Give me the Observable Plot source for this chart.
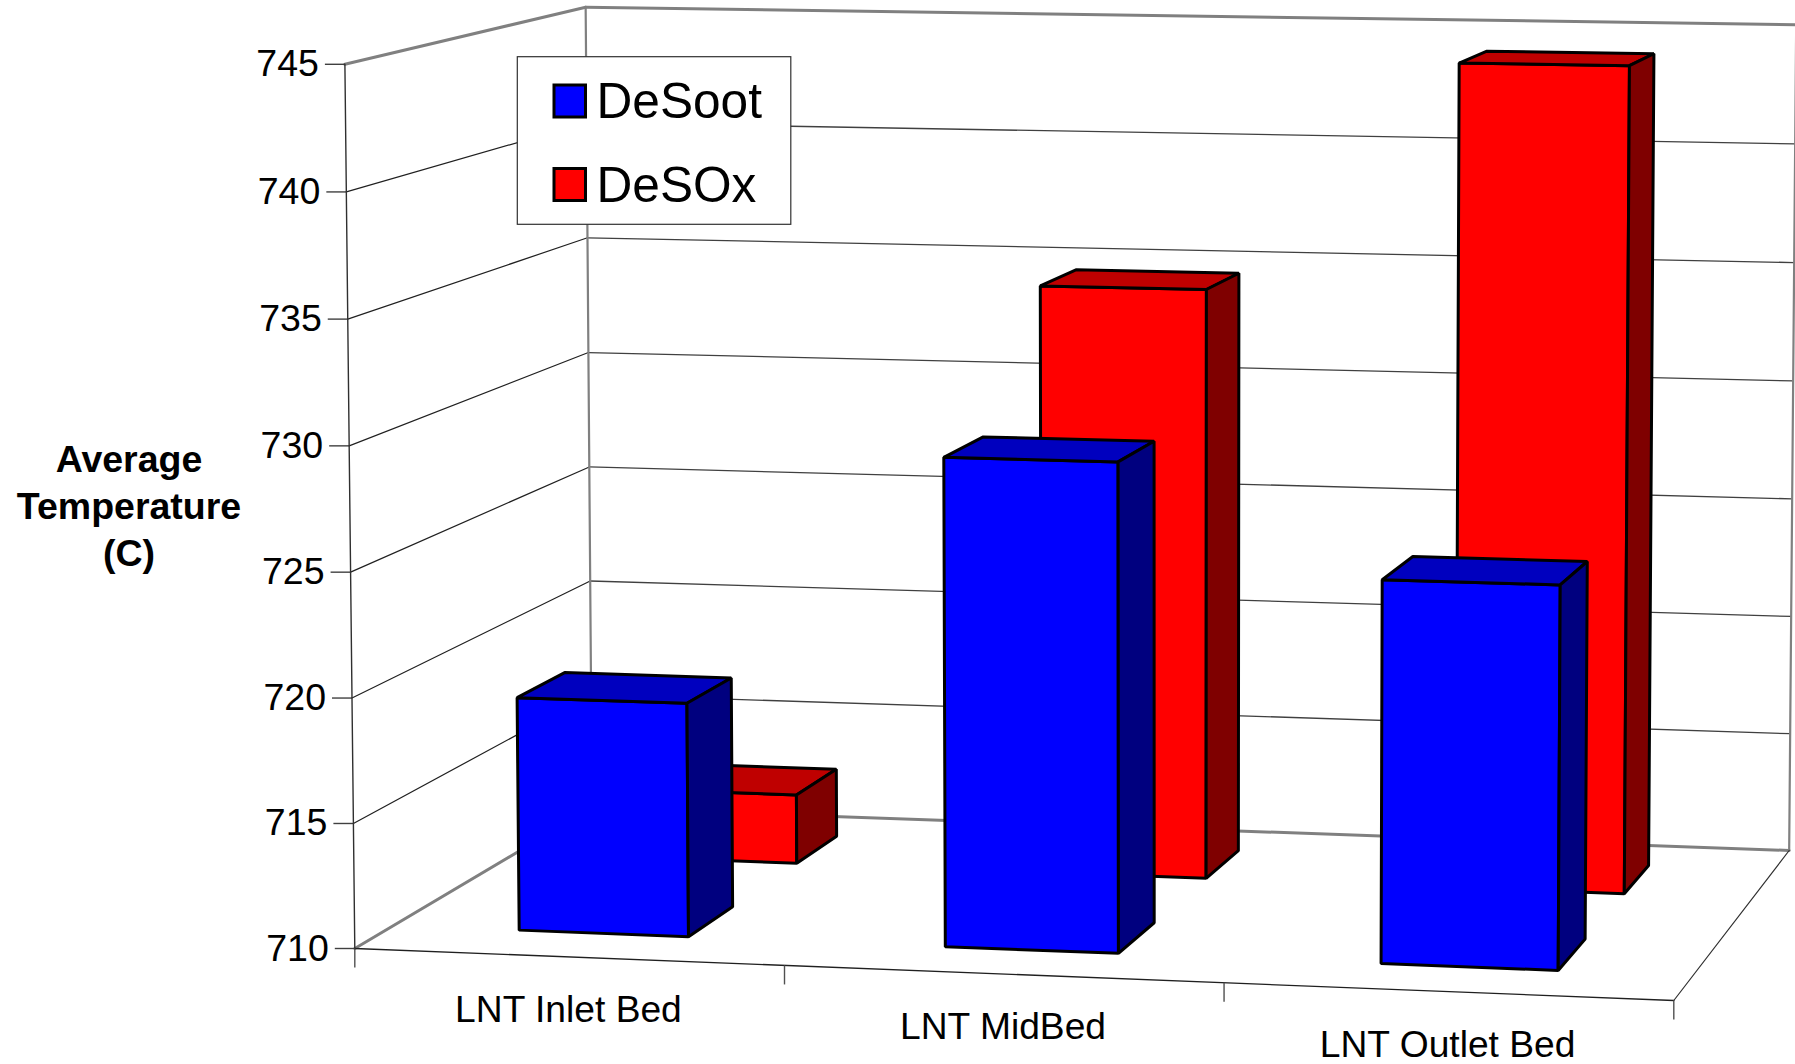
<!DOCTYPE html>
<html>
<head>
<meta charset="utf-8">
<script src="https://cdn.jsdelivr.net/npm/d3@7"></script>
<script src="https://cdn.jsdelivr.net/npm/@observablehq/plot@0.6"></script>
<style>
html,body{margin:0;padding:0;background:#fff;overflow:hidden}
svg{display:block}
</style>
</head>
<body>
<div id="chart"></div>
<script>
// ---- data ----
const categories = ["LNT Inlet Bed", "LNT MidBed", "LNT Outlet Bed"];
const seriesNames = ["DeSoot", "DeSOx"];
const deSoot = [719.4, 729.5, 725.15];
const deSOx = [712.9, 734.55, 744.05];
const yTicks = [710, 715, 720, 725, 730, 735, 740, 745];
const yTitle = ["Average", "Temperature", "(C)"];

// ---- perspective of the 3D box (fitted to the frame corners) ----
const O = [354.3, 948], PU = [1673.3, 1000], PD = [591.5, 807.5], PV = [344.4, 63.8];
const a = -0.0336, b = 0.105, c = -0.012;
const A = [PU[0] * (1 + a) - O[0], PU[1] * (1 + a) - O[1]];
const B = [PD[0] * (1 + b) - O[0], PD[1] * (1 + b) - O[1]];
const C = [PV[0] * (1 + c) - O[0], PV[1] * (1 + c) - O[1]];
const vMin = 710, vMax = 745;
function project(cat, depth, value) {
  const U = cat / categories.length, D = depth, V = (value - vMin) / (vMax - vMin);
  const w = 1 + a * U + b * D + c * V;
  return {
    x: (O[0] + U * A[0] + D * B[0] + V * C[0]) / w,
    y: (O[1] + U * A[1] + D * B[1] + V * C[1]) / w
  };
}

// ---- bar geometry in chart units ----
const barLo = 0.298, barHi = 0.698;
const depthStart = [0.152, 0.658], depthSize = 0.2;
const palette = [
  {front: "#0000ff", top: "#0000bf", side: "#00007f"},
  {front: "#ff0000", top: "#bf0000", side: "#7f0000"}
];

const n = categories.length;
const xy = {x: "x", y: "y"};
const line = (pts, o) => Plot.line(pts, {...xy, ...o});

// walls
const lineDark = "#303030", lineGray = "#808080";
const marks = [];
yTicks.forEach((t) => {
  const frontL = project(0, 0, t), backL = project(0, 1, t), backR = project(n, 1, t);
  const edge = t === vMax || t === vMin;
  marks.push(line([frontL, backL], {stroke: edge ? lineGray : "#202020", strokeWidth: edge ? 3 : 1.2}));
  marks.push(line([backL, backR], {stroke: edge ? lineGray : "#404040", strokeWidth: edge ? 3 : 1.3}));
  marks.push(Plot.link([frontL], {x1: "x", y1: "y", x2: (d) => d.x - 20, y2: "y", stroke: "#404040", strokeWidth: 1.4}));
});
marks.push(line([project(0, 1, vMin), project(0, 1, vMax)], {stroke: lineGray, strokeWidth: 2.2}));
marks.push(line([project(n, 1, vMin), project(n, 1, vMax)], {stroke: lineGray, strokeWidth: 2.2}));
marks.push(line([project(0, 0, vMin), project(0, 0, vMax)], {stroke: lineDark, strokeWidth: 1.4}));
marks.push(line([project(0, 0, vMin), project(n, 0, vMin)], {stroke: "#202020", strokeWidth: 1.4}));
marks.push(line([project(n, 0, vMin), project(n, 1, vMin)], {stroke: "#303030", strokeWidth: 1.2}));
d3.range(n + 1).forEach((i) => {
  const p = project(i, 0, vMin);
  marks.push(Plot.link([p], {x1: "x", y1: "y", x2: "x", y2: (d) => d.y + 19, stroke: "#505050", strokeWidth: 1.4}));
});

// bars: back series first, then front series
const face = (pts, fill) => Plot.line(pts, {...xy, fill, stroke: "#000", strokeWidth: 3, curve: "linear-closed", strokeLinejoin: "miter"});
categories.forEach((_, i) => {
  [[1, deSOx[i]], [0, deSoot[i]]].forEach(([s, v]) => {
    const u0 = i + barLo, u1 = i + barHi, d0 = depthStart[s], d1 = d0 + depthSize, col = palette[s];
    marks.push(face([project(u0, d0, vMin), project(u1, d0, vMin), project(u1, d0, v), project(u0, d0, v)], col.front));
    marks.push(face([project(u0, d0, v), project(u1, d0, v), project(u1, d1, v), project(u0, d1, v)], col.top));
    marks.push(face([project(u1, d0, vMin), project(u1, d1, vMin), project(u1, d1, v), project(u1, d0, v)], col.side));
  });
});

// y tick labels
marks.push(Plot.text(yTicks.map((t) => ({...project(0, 0, t), t})), {
  ...xy, text: (d) => String(d.t), textAnchor: "end", dx: -26, lineAnchor: "middle",
  fontSize: 37.5, fill: "#000"
}));
// category labels
marks.push(Plot.text(categories.map((name, i) => ({...project(i + 0.5, 0, vMin), name})), {
  ...xy, text: "name", textAnchor: "middle", dy: 53.5, lineAnchor: "middle",
  fontSize: 37.2, fill: "#000"
}));
// y title
marks.push(Plot.text([yTitle.join("\n")], {
  x: () => 128.5, y: () => 503, text: (d) => d, textAnchor: "middle", lineAnchor: "middle",
  fontSize: 37.5, fontWeight: "bold", lineHeight: 1.255, fill: "#000"
}));
// legend
marks.push(Plot.rect([{x1: 517.3, x2: 790.8, y1: 56.7, y2: 224.3}], {
  x1: "x1", x2: "x2", y1: "y1", y2: "y2", fill: "#fff", stroke: "#303030", strokeWidth: 1.2
}));
const legendRows = seriesNames.map((name, s) => ({name, s, y1: [85, 168.5][s], y2: [117, 200.5][s]}));
legendRows.forEach((r) => {
  marks.push(Plot.rect([r], {x1: () => 554, x2: () => 585.5, y1: "y1", y2: "y2", fill: palette[r.s].front, stroke: "#000", strokeWidth: 3}));
});
marks.push(Plot.text(legendRows, {
  x: () => 596, y: (d) => (d.y1 + d.y2) / 2 + 1, text: "name", textAnchor: "start", lineAnchor: "middle",
  fontSize: 49.6, fill: "#000"
}));

const chart = Plot.plot({
  width: 1795, height: 1064,
  margin: 0, marginTop: 0, marginRight: 0, marginBottom: 0, marginLeft: 0,
  style: {background: "#fff", fontFamily: "'Liberation Sans', Arial, sans-serif", overflow: "hidden"},
  x: {domain: [0, 1795], range: [0, 1795], axis: null},
  y: {domain: [0, 1064], range: [0, 1064], axis: null},
  marks
});
document.getElementById("chart").append(chart);
</script>
</body>
</html>
